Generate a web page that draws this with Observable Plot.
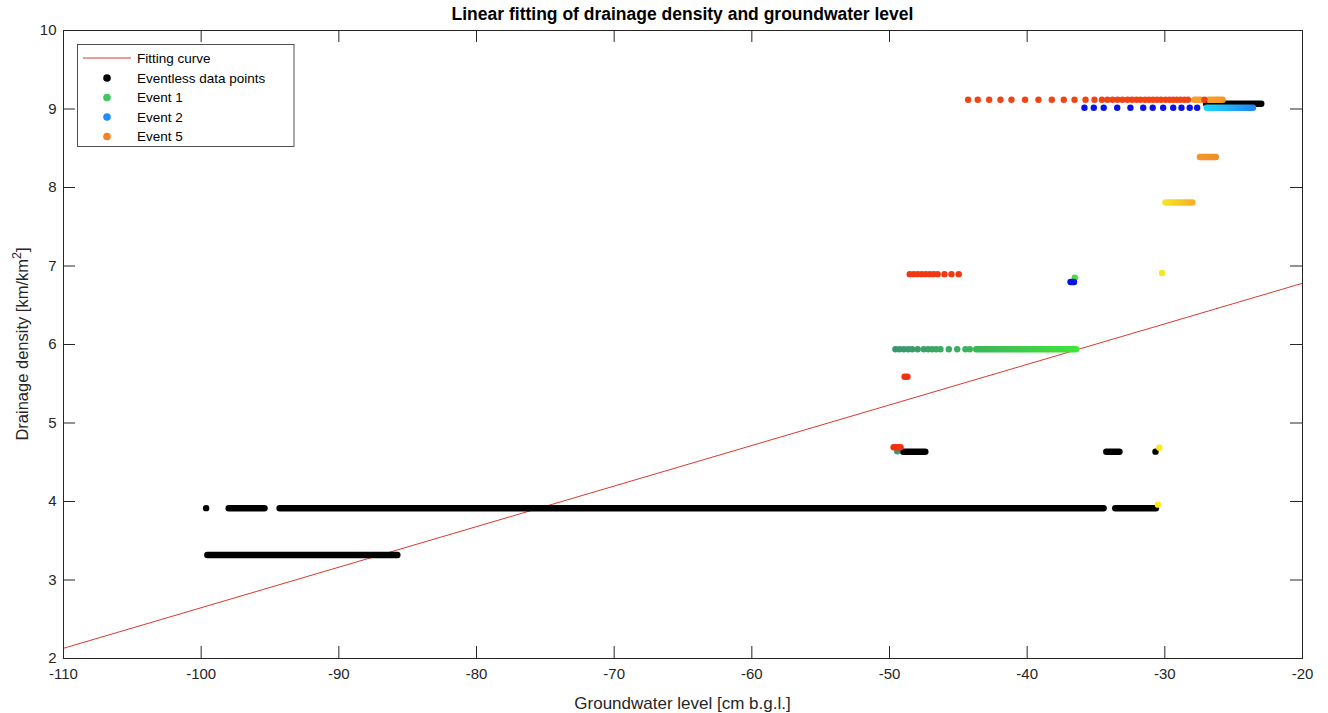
<!DOCTYPE html>
<html><head><meta charset="utf-8">
<script src="https://cdn.jsdelivr.net/npm/d3@7"></script>
<script src="https://cdn.jsdelivr.net/npm/@observablehq/plot@0.6"></script>
<style>
body{margin:0;background:#fff;font-family:"Liberation Sans",Arial,sans-serif;}
#title{height:22px;width:1328px;position:relative;}
#title span{position:absolute;left:63px;width:1239px;text-align:center;top:5px;font-size:17.5px;font-weight:bold;line-height:18px;color:#000;}
</style></head><body>
<div id="title"><span>Linear fitting of drainage density and groundwater level</span></div>
<div id="chart"></div>
<script>
// ---------- DATA ----------
const xTicks = [-110, -100, -90, -80, -70, -60, -50, -40, -30, -20];
const yTicks = [2, 3, 4, 5, 6, 7, 8, 9, 10];
const xLabel = "Groundwater level [cm b.g.l.]";
const yLabelMain = "Drainage density [km/km";
const yLabelSup = "2";
const titleText = "Linear fitting of drainage density and groundwater level";
const legendNames = ["Fitting curve", "Eventless data points", "Event 1", "Event 2", "Event 5"];

// fitted line end points
const fitX = [-110, -20];
const fitY = [2.13, 6.78];

// eventless: dense runs [xStart, xEnd, y] and single points [x, y]
const eventlessRuns = [
  [-99.55, -85.75, 3.32],
  [-98.0, -95.4, 3.915],
  [-94.3, -34.45, 3.915],
  [-33.6, -30.65, 3.915],
  [-49.0, -47.4, 4.635],
  [-34.25, -33.3, 4.635],
  [-27.0, -23.0, 9.066]
];
const eventlessDots = [[-99.64, 3.915], [-30.68, 4.635]];

// events: points [x, y, phase], runs [xStart, xEnd, y, phaseStart, phaseEnd]
const event1Dots = [
  [-49.57, 5.94, 0.00], [-49.28, 5.94, 0.02], [-48.96, 5.94, 0.04], [-48.64, 5.94, 0.07],
  [-48.35, 5.94, 0.09], [-47.95, 5.94, 0.12], [-47.51, 5.94, 0.15], [-47.19, 5.94, 0.17],
  [-46.90, 5.94, 0.19], [-46.61, 5.94, 0.21], [-46.30, 5.94, 0.24], [-45.69, 5.94, 0.28],
  [-45.08, 5.94, 0.33], [-44.48, 5.94, 0.37], [-44.17, 5.94, 0.39],
  [-36.54, 6.85, 1.00], [-49.44, 4.64, 0.05]
];
const event1Runs = [[-43.7, -36.45, 5.94, 0.41, 1.0]];

const event2Dots = [
  [-35.84, 9.015, 0], [-35.16, 9.015, 0], [-34.44, 9.015, 0], [-33.46, 9.015, 0],
  [-32.50, 9.015, 0], [-31.57, 9.015, 0], [-30.88, 9.015, 0], [-30.12, 9.015, 0],
  [-29.39, 9.015, 0], [-28.79, 9.015, 0], [-28.19, 9.015, 0], [-27.65, 9.015, 0]
];
const event2Runs = [
  [-36.85, -36.6, 6.795, 0, 0],
  [-26.95, -23.6, 9.015, 1, 0.55]
];

const event5Dots = [
  [-44.29, 9.117, 0.08], [-43.59, 9.117, 0.08], [-42.76, 9.117, 0.08], [-41.94, 9.117, 0.08],
  [-41.14, 9.117, 0.08], [-40.15, 9.117, 0.08], [-39.18, 9.117, 0.08], [-38.21, 9.117, 0.08],
  [-37.34, 9.117, 0.08], [-36.56, 9.117, 0.08], [-35.76, 9.117, 0.08], [-35.11, 9.117, 0.08],
  [-34.57, 9.117, 0.08], [-34.17, 9.117, 0.08], [-33.80, 9.117, 0.08], [-33.44, 9.117, 0.08],
  [-33.08, 9.117, 0.08], [-32.71, 9.117, 0.08], [-32.39, 9.117, 0.08], [-32.06, 9.117, 0.08],
  [-31.77, 9.117, 0.08], [-31.44, 9.117, 0.08], [-31.15, 9.117, 0.08], [-30.86, 9.117, 0.08],
  [-30.57, 9.117, 0.08], [-30.28, 9.117, 0.08], [-29.95, 9.117, 0.08], [-29.66, 9.117, 0.08],
  [-29.40, 9.117, 0.08], [-29.13, 9.117, 0.08], [-28.87, 9.117, 0.08], [-28.58, 9.117, 0.08],
  [-28.32, 9.117, 0.08], [-27.12, 9.117, 0.06],
  [-48.53, 6.896, 0.03], [-48.24, 6.896, 0.03], [-47.95, 6.896, 0.03], [-47.66, 6.896, 0.03],
  [-47.37, 6.896, 0.03], [-47.08, 6.896, 0.03], [-46.79, 6.896, 0.03], [-46.50, 6.896, 0.03],
  [-46.01, 6.896, 0.03], [-45.50, 6.896, 0.03], [-44.97, 6.896, 0.03],
  [-30.2, 6.91, 0.98], [-30.4, 4.685, 1.0], [-30.5, 3.96, 1.0]
];
const event5Runs = [
  [-27.85, -27.4, 9.117, 0.5, 0.5],
  [-26.8, -25.8, 9.117, 0.5, 0.45],
  [-27.45, -26.3, 8.39, 0.45, 0.42],
  [-29.95, -28.0, 7.81, 0.95, 0.62],
  [-49.7, -49.2, 4.69, 0, 0],
  [-48.9, -48.7, 5.59, 0, 0]
];

// ---------- STYLE ----------
const INK = "#262626";
const FIT = "#d93a2e";
const color1 = d3.scaleLinear().domain([0, 1]).range(["#3a9570", "#40e43a"]);
const color2 = d3.scaleLinear().domain([0, 0.55, 1]).range(["#0a12e6", "#2088f2", "#1ed4ff"]);
const color5 = d3.scaleLinear().domain([0, 0.5, 1]).range(["#f03210", "#f5a02c", "#f8ea1c"]);
const legendColors = ["#000000", "#3cc85a", "#1e8cff", "#f58220"];

const W = 1328, H = 691, mt = 8, mb = 55, ml = 63, mr = 26;
const plotH = H - mt - mb, plotW = W - ml - mr;
const TICK = 12, R = 3.2, RUNW = 6.5;
const fmt = d => String(d);

const runOpts = (col) => ({
  x1: d => d[0], x2: d => d[1], y1: d => d[2], y2: d => d[2],
  stroke: d => col ? col(d[3]) : "#000", strokeWidth: RUNW, strokeLinecap: "round"
});
const dotOpts = (col) => ({
  x: d => d[0], y: d => d[1], r: R, fill: d => col ? col(d[2]) : "#000", stroke: "none"
});

const fitData = fitX.map((x, i) => ({x, y: fitY[i]}));

const svg = Plot.plot({
  width: W, height: H,
  marginTop: mt, marginBottom: mb, marginLeft: ml, marginRight: mr,
  style: {fontFamily: "'Liberation Sans', Arial, sans-serif", fontSize: "15px", background: "#fff", overflow: "visible"},
  x: {domain: [-110, -20]},
  y: {domain: [2, 10]},
  marks: [
    Plot.line(fitData, {x: "x", y: "y", stroke: FIT, strokeWidth: 1}),
    Plot.link(eventlessRuns, runOpts(null)),
    Plot.dot(eventlessDots, dotOpts(null)),
    Plot.link(event1Runs, runOpts(color1)),
    Plot.dot(event1Dots, dotOpts(color1)),
    Plot.link(event2Runs, runOpts(color2)),
    Plot.dot(event2Dots, dotOpts(color2)),
    Plot.link(event5Runs, runOpts(color5)),
    Plot.dot(event5Dots, dotOpts(color5)),
    Plot.tickX(xTicks, {x: d => d, insetTop: plotH - TICK, stroke: INK}),
    Plot.tickX(xTicks, {x: d => d, insetBottom: plotH - TICK, stroke: INK}),
    Plot.tickY(yTicks, {y: d => d, insetRight: plotW - TICK, stroke: INK}),
    Plot.tickY(yTicks, {y: d => d, insetLeft: plotW - TICK, stroke: INK}),
    Plot.frame({stroke: INK, strokeWidth: 1}),
    Plot.axisX(xTicks, {tickSize: 0, tickPadding: 10, label: null, color: INK, fontSize: 15, tickFormat: fmt}),
    Plot.axisY(yTicks, {tickSize: 0, tickPadding: 7, label: null, color: INK, fontSize: 15, tickFormat: fmt})
  ]
});

// gradients for event runs
const xs = svg.scale("x");
const sel = d3.select(svg);
const defs = sel.insert("defs", ":first-child");
const linkGroups = svg.querySelectorAll('g[aria-label="link"]');
const runSets = [[eventlessRuns, null], [event1Runs, color1], [event2Runs, color2], [event5Runs, color5]];
let gid = 0;
linkGroups.forEach((g, gi) => {
  const [runs, col] = runSets[gi] || [];
  if (!col) return;
  g.querySelectorAll("path, line").forEach((p, j) => {
    const r = runs[j];
    if (!r || r[3] === r[4]) return;
    const id = "rg" + (gid++);
    const lg = defs.append("linearGradient").attr("id", id).attr("gradientUnits", "userSpaceOnUse")
      .attr("x1", xs.apply(r[0])).attr("x2", xs.apply(r[1])).attr("y1", 0).attr("y2", 0);
    lg.append("stop").attr("offset", 0).attr("stop-color", col(r[3]));
    lg.append("stop").attr("offset", 1).attr("stop-color", col(r[4]));
    p.setAttribute("stroke", `url(#${id})`);
  });
});

// axis labels
sel.append("text").attr("x", ml + plotW / 2).attr("y", 687).attr("text-anchor", "middle")
  .attr("font-size", 17).attr("fill", INK).text(xLabel);
const yl = sel.append("text").attr("transform", `translate(28,${mt + plotH / 2}) rotate(-90)`)
  .attr("text-anchor", "middle").attr("font-size", 16.5).attr("fill", INK);
yl.append("tspan").text(yLabelMain);
yl.append("tspan").attr("font-size", 12.5).attr("dy", -7).text(yLabelSup);
yl.append("tspan").attr("dy", 7).text("]");

// legend
const lgd = sel.append("g").attr("text-anchor", "start");
lgd.append("rect").attr("x", 77.5).attr("y", 22.5).attr("width", 216.5).attr("height", 102)
  .attr("fill", "#fff").attr("stroke", INK).attr("stroke-width", 0.8);
const rowY = [36, 56, 75.5, 95, 114.5];
lgd.append("line").attr("x1", 83).attr("x2", 131).attr("y1", rowY[0]).attr("y2", rowY[0])
  .attr("stroke", FIT).attr("stroke-width", 1);
legendColors.forEach((c, i) => {
  lgd.append("circle").attr("cx", 107).attr("cy", rowY[i + 1]).attr("r", 3.8).attr("fill", c);
});
legendNames.forEach((n, i) => {
  lgd.append("text").attr("x", 137).attr("y", rowY[i]).attr("dy", "0.36em")
    .attr("text-anchor", "start").attr("font-size", 13.5).attr("fill", "#000").text(n);
});

document.getElementById("chart").appendChild(svg);
</script>
</body></html>
